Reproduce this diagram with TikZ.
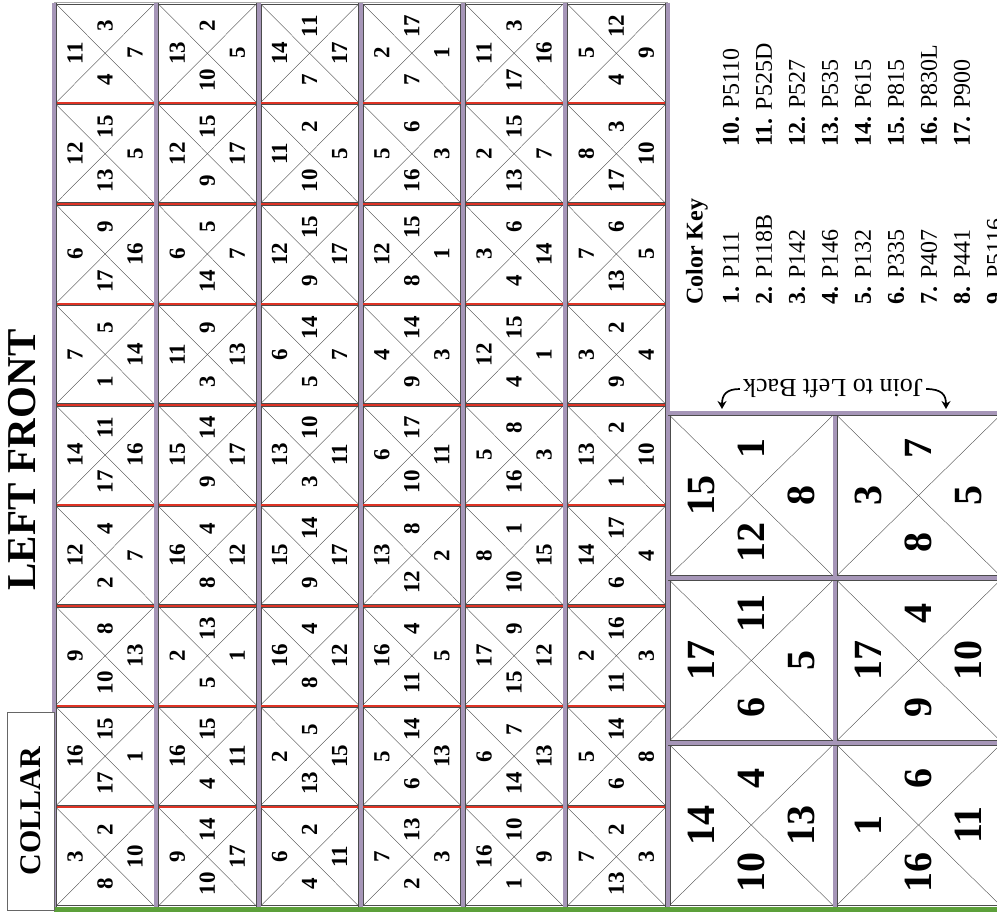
\documentclass[tikz,border=0pt]{standalone}
\usepackage{fontspec}
\setmainfont{Liberation Serif}
\usetikzlibrary{arrows.meta, calc}
\definecolor{seppurple}{RGB}{166,150,184}
\definecolor{sepred}{RGB}{222,52,38}
\definecolor{sepgreen}{RGB}{92,160,58}

% small quilt block: column, row, left, top, right, bottom
\newcommand{\tcell}[6]{%
  \node[cellbox] (c#1#2) at ({54+102.25*(#1-0.5)}, {3+100.44*(#2-0.5)}) {};
  \draw[diag] (c#1#2.north west) -- (c#1#2.south east);
  \draw[diag] (c#1#2.north east) -- (c#1#2.south west);
  \node[num] (c#1#2-l) at ([xshift=-30pt]c#1#2.center) {#3};
  \node[num] (c#1#2-t) at ([yshift=27pt]c#1#2.center) {#4};
  \node[num] (c#1#2-r) at ([xshift=30pt]c#1#2.center) {#5};
  \node[num] (c#1#2-b) at ([yshift=-27pt]c#1#2.center) {#6};
}
% big quilt block: name, x, y, left, top, right, bottom
\newcommand{\bcell}[7]{%
  \node[bigbox] (#1) at (#2, #3) {};
  \draw[diag] (#1.north west) -- (#1.south east);
  \draw[diag] (#1.north east) -- (#1.south west);
  \node[bignum] (#1-l) at ([xshift=-50pt]#1.center) {#4};
  \node[bignum] (#1-t) at ([yshift=47pt]#1.center) {#5};
  \node[bignum] (#1-r) at ([xshift=50pt]#1.center) {#6};
  \node[bignum] (#1-b) at ([yshift=-47pt]#1.center) {#7};
}

\begin{document}
\begin{tikzpicture}[x=1pt, y=-1pt,
    cellbox/.style={draw=black!70, fill=white, line width=0.5pt, minimum width=97.5pt, minimum height=98pt, inner sep=0pt},
    bigbox/.style={cellbox, minimum width=163pt, minimum height=160pt},
    diag/.style={black!75, line width=0.35pt},
    num/.style={font=\fontsize{23}{24}\selectfont\bfseries, rotate=90, inner sep=0pt},
    bignum/.style={num, font=\fontsize{40}{40}\selectfont\bfseries},
    colsep/.style={draw=black!70, double=seppurple, double distance=4pt, line width=0.5pt},
    rowsep/.style={sepred, line width=2.2pt},
    keytext/.style={font=\fontsize{24}{26}\selectfont, rotate=90, anchor=west, inner sep=0pt},
    joinarrow/.style={-{Stealth[length=8pt, width=9pt]}, line width=1.7pt},
]
\useasboundingbox (0,0) rectangle (997,912);

% Left front blocks
\tcell{1}{1}{11}{3}{7}{4}
\tcell{1}{2}{12}{15}{5}{13}
\tcell{1}{3}{6}{9}{16}{17}
\tcell{1}{4}{7}{5}{14}{1}
\tcell{1}{5}{14}{11}{16}{17}
\tcell{1}{6}{12}{4}{7}{2}
\tcell{1}{7}{9}{8}{13}{10}
\tcell{1}{8}{16}{15}{1}{17}
\tcell{1}{9}{3}{2}{10}{8}

\tcell{2}{1}{13}{2}{5}{10}
\tcell{2}{2}{12}{15}{17}{9}
\tcell{2}{3}{6}{5}{7}{14}
\tcell{2}{4}{11}{9}{13}{3}
\tcell{2}{5}{15}{14}{17}{9}
\tcell{2}{6}{16}{4}{12}{8}
\tcell{2}{7}{2}{13}{1}{5}
\tcell{2}{8}{16}{15}{11}{4}
\tcell{2}{9}{9}{14}{17}{10}

\tcell{3}{1}{14}{11}{17}{7}
\tcell{3}{2}{11}{2}{5}{10}
\tcell{3}{3}{12}{15}{17}{9}
\tcell{3}{4}{6}{14}{7}{5}
\tcell{3}{5}{13}{10}{11}{3}
\tcell{3}{6}{15}{14}{17}{9}
\tcell{3}{7}{16}{4}{12}{8}
\tcell{3}{8}{2}{5}{15}{13}
\tcell{3}{9}{6}{2}{11}{4}

\tcell{4}{1}{2}{17}{1}{7}
\tcell{4}{2}{5}{6}{3}{16}
\tcell{4}{3}{12}{15}{1}{8}
\tcell{4}{4}{4}{14}{3}{9}
\tcell{4}{5}{6}{17}{11}{10}
\tcell{4}{6}{13}{8}{2}{12}
\tcell{4}{7}{16}{4}{5}{11}
\tcell{4}{8}{5}{14}{13}{6}
\tcell{4}{9}{7}{13}{3}{2}

\tcell{5}{1}{11}{3}{16}{17}
\tcell{5}{2}{2}{15}{7}{13}
\tcell{5}{3}{3}{6}{14}{4}
\tcell{5}{4}{12}{15}{1}{4}
\tcell{5}{5}{5}{8}{3}{16}
\tcell{5}{6}{8}{1}{15}{10}
\tcell{5}{7}{17}{9}{12}{15}
\tcell{5}{8}{6}{7}{13}{14}
\tcell{5}{9}{16}{10}{9}{1}

\tcell{6}{1}{5}{12}{9}{4}
\tcell{6}{2}{8}{3}{10}{17}
\tcell{6}{3}{7}{6}{5}{13}
\tcell{6}{4}{3}{2}{4}{9}
\tcell{6}{5}{13}{2}{10}{1}
\tcell{6}{6}{14}{17}{4}{6}
\tcell{6}{7}{2}{16}{3}{11}
\tcell{6}{8}{5}{14}{8}{6}
\tcell{6}{9}{7}{2}{3}{13}

% Big blocks
\bcell{b11}{751.25}{495.5}{15}{1}{8}{12}
\bcell{b12}{918.5}{495.5}{3}{7}{5}{8}
\bcell{b21}{751.25}{660.5}{17}{11}{5}{6}
\bcell{b22}{918.5}{660.5}{17}{4}{10}{9}
\bcell{b31}{751.25}{825}{14}{4}{13}{10}
\bcell{b32}{918.5}{825}{1}{6}{11}{16}

% Seams
\draw[gray!70, line width=1pt] (54,3) -- (667.5,3);
\draw[rowsep] (54,103.4) -- (667.5,103.4) (54,203.9) -- (667.5,203.9)
  (54,304.3) -- (667.5,304.3) (54,404.8) -- (667.5,404.8)
  (54,505.2) -- (667.5,505.2) (54,605.6) -- (667.5,605.6)
  (54,706.1) -- (667.5,706.1) (54,806.6) -- (667.5,806.6);
\draw[colsep] (54,3) -- (54,907) (156.25,3) -- (156.25,907)
  (258.5,3) -- (258.5,907) (360.75,3) -- (360.75,907)
  (463,3) -- (463,907) (565.25,3) -- (565.25,907)
  (667.5,3) -- (667.5,907) (835,413) -- (835,907);
\draw[colsep] (667.5,413) -- (1002,413) (667.5,578) -- (1002,578)
  (667.5,743) -- (1002,743);
\draw[sepgreen, line width=5pt] (54,909.5) -- (1002,909.5);

% Labels
\node[font=\fontsize{41}{41}\selectfont\bfseries, rotate=90, inner sep=0pt] (front) at (22,460) {LEFT FRONT};
\node[draw=black!60, line width=0.6pt, fill=white, rotate=90, minimum width=198pt, minimum height=47pt,
  font=\fontsize{30}{30}\selectfont\bfseries] (collar) at (31,811) {COLLAR};

% Join note
\node[font=\fontsize{26}{26}\selectfont, rotate=180, inner sep=0pt] (join) at (833,389) {Join to Left Back};
\coordinate (joinl) at (722,409);
\coordinate (joinr) at (946,409);
\draw[joinarrow] ([xshift=-3pt]join.east) .. controls (726,389) and (722,395) .. (joinl);
\draw[joinarrow] ([xshift=3pt]join.west) .. controls (942,389) and (946,395) .. (joinr);

% Color key
\node[keytext, font=\fontsize{24}{26}\selectfont\bfseries] (keyhead) at (697,305) {Color Key};
\node[keytext] (k1) at (731,305) {\textbf{1.} P111};
\node[keytext] (k2) at (764,305) {\textbf{2.} P118B};
\node[keytext] (k3) at (797,305) {\textbf{3.} P142};
\node[keytext] (k4) at (830,305) {\textbf{4.} P146};
\node[keytext] (k5) at (863,305) {\textbf{5.} P132};
\node[keytext] (k6) at (896,305) {\textbf{6.} P335};
\node[keytext] (k7) at (929,305) {\textbf{7.} P407};
\node[keytext] (k8) at (962,305) {\textbf{8.} P441};
\node[keytext] (k9) at (995,305) {\textbf{9.} P5116};
\node[keytext] (k10) at (731,147) {\textbf{10.} P5110};
\node[keytext] (k11) at (764,147) {\textbf{11.} P525D};
\node[keytext] (k12) at (797,147) {\textbf{12.} P527};
\node[keytext] (k13) at (830,147) {\textbf{13.} P535};
\node[keytext] (k14) at (863,147) {\textbf{14.} P615};
\node[keytext] (k15) at (896,147) {\textbf{15.} P815};
\node[keytext] (k16) at (929,147) {\textbf{16.} P830L};
\node[keytext] (k17) at (962,147) {\textbf{17.} P900};

\end{tikzpicture}
\end{document}
